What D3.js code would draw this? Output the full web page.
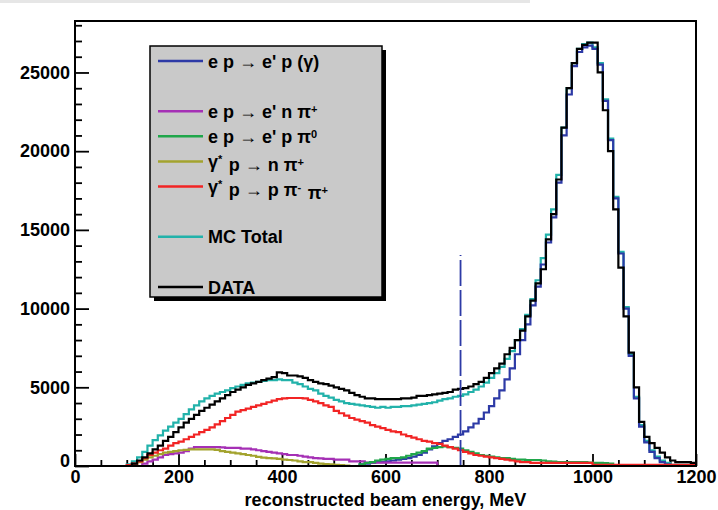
<!DOCTYPE html>
<html>
<head>
<meta charset="utf-8">
<script src="https://cdnjs.cloudflare.com/ajax/libs/d3/7.8.5/d3.min.js"></script>
<style>
  body { margin: 0; background: #fff; }
  text { font-family: "Liberation Sans", Arial, Helvetica, sans-serif; font-weight: bold; }
</style>
</head>
<body>
<div class="chart"></div>
<script>
var svgWidth = 718;
var svgHeight = 510;

var margin = { top: 21, right: 22, bottom: 44, left: 75 };

var width = svgWidth - margin.left - margin.right;
var height = svgHeight - margin.top - margin.bottom;

// 10 MeV bins from 0 to 1200 MeV
var binWidth = 10;
var binLow = d3.range(0, 1200, binWidth);

// counts per bin (one line = 100 MeV)
var dataCounts = [
  0, 0, 0, 0, 0, 0, 0, 0, 0, 0,
  0, 150, 350, 550, 800, 1050, 1300, 1600, 1850, 2150,
  2450, 2750, 3000, 3250, 3500, 3700, 3900, 4100, 4300, 4500,
  4700, 4850, 5000, 5150, 5250, 5350, 5450, 5550, 5650, 5950,
  5900, 5750, 5750, 5700, 5600, 5450, 5350, 5250, 5200, 5100,
  5000, 4900, 4800, 4650, 4500, 4400, 4300, 4300, 4250, 4250,
  4250, 4250, 4250, 4300, 4300, 4350, 4450, 4450, 4500, 4550,
  4600, 4650, 4700, 4850, 4900, 4950, 5050, 5200, 5350, 5600,
  5900, 6200, 6500, 7100, 7500, 8000, 8600, 9500, 10500, 11600,
  12500, 14400, 16000, 18200, 21500, 24000, 25600, 26500, 26750, 26900,
  26900, 25000, 22600, 20000, 16300, 12600, 9500, 7200, 5000, 2800,
  1850, 1450, 1150, 850, 550, 350, 250, 250, 250, 200
];

var mcTotal = [
  0, 0, 0, 0, 0, 0, 0, 0, 0, 0,
  100, 300, 550, 900, 1300, 1650, 1950, 2250, 2500, 2750,
  3000, 3300, 3600, 3850, 4100, 4300, 4450, 4600, 4700, 4800,
  4950, 5050, 5150, 5250, 5300, 5350, 5400, 5450, 5450, 5500,
  5450, 5450, 5300, 5200, 5050, 4900, 4800, 4600, 4450, 4350,
  4200, 4100, 4000, 3950, 3900, 3850, 3800, 3750, 3700, 3750,
  3700, 3750, 3750, 3800, 3800, 3850, 3900, 3950, 4000, 4050,
  4150, 4250, 4300, 4400, 4450, 4550, 4700, 4850, 5050, 5300,
  5600, 5900, 6300, 6800, 7300, 8000, 8700, 9600, 10600, 11800,
  13200, 14700, 16300, 18500, 21500, 24000, 25600, 26500, 26800, 26900,
  26600, 25600, 23300, 20800, 17100, 13600, 10100, 7100, 4400, 2600,
  1600, 1000, 600, 350, 200, 80, 80, 80, 80, 80
];

// e p -> e' p (gamma)
var elastic = [
  0, 0, 0, 0, 0, 0, 0, 0, 0, 0,
  0, 0, 0, 0, 0, 0, 0, 0, 0, 0,
  0, 0, 0, 0, 0, 0, 0, 0, 0, 0,
  0, 0, 0, 0, 0, 0, 0, 0, 0, 0,
  0, 0, 0, 0, 0, 0, 0, 0, 0, 0,
  0, 0, 0, 0, 0, 100, 150, 200, 250, 250,
  300, 350, 400, 450, 500, 600, 700, 850, 1050, 1250,
  1450, 1600, 1700, 1850, 2000, 2200, 2450, 2700, 3000, 3400,
  3800, 4300, 4800, 5500, 6200, 7100, 8000, 9000, 10200, 11400,
  12800, 14200, 15800, 18000, 21000, 23600, 25400, 26300, 26600, 26700,
  26500, 25500, 23200, 20700, 17000, 13500, 10000, 7000, 4300, 2500,
  1500, 900, 500, 250, 100, 0, 0, 0, 0, 0
];

// e p -> e' n pi+
var npiPlus = [
  0, 0, 0, 0, 0, 0, 0, 0, 0, 0,
  0, 0, 0, 150, 300, 400, 550, 700, 750, 800,
  850, 950, 1100, 1200, 1200, 1200, 1200, 1200, 1180, 1150,
  1150, 1150, 1100, 1100, 1050, 1000, 950, 900, 850, 800,
  750, 700, 700, 650, 600, 550, 500, 480, 450, 450,
  400, 400, 400, 300, 300, 300, 220, 220, 220, 220,
  220, 220, 220, 220, 220, 220, 220, 220, 220, 220,
  0, 0, 0, 0, 0, 0, 0, 0, 0, 0,
  0, 0, 0, 0, 0, 0, 0, 0, 0, 0,
  0, 0, 0, 0, 0, 0, 0, 0, 0, 0,
  0, 0, 0, 0, 0, 0, 0, 0, 0, 0,
  0, 0, 0, 0, 0, 0, 0, 0, 0, 0
];

// e p -> e' p pi0
var ppiZero = [
  0, 0, 0, 0, 0, 0, 0, 0, 0, 0,
  0, 0, 0, 0, 0, 0, 0, 0, 0, 0,
  0, 0, 0, 0, 0, 0, 0, 0, 0, 0,
  0, 0, 0, 0, 0, 0, 0, 0, 0, 0,
  0, 0, 0, 0, 0, 0, 0, 0, 0, 0,
  0, 0, 0, 0, 0, 100, 200, 250, 350, 400,
  450, 500, 500, 550, 650, 750, 850, 950, 1100, 1150,
  1200, 1250, 1200, 1150, 1100, 1000, 900, 800, 700, 650,
  600, 550, 500, 500, 450, 400, 400, 380, 380, 380,
  350, 300, 280, 250, 250, 250, 250, 250, 250, 220,
  200, 200, 180, 150, 0, 0, 0, 0, 0, 0,
  0, 0, 0, 0, 0, 0, 0, 0, 0, 0
];

// gamma* p -> n pi+
var photoNpi = [
  0, 0, 0, 0, 0, 0, 0, 0, 0, 0,
  0, 100, 250, 400, 550, 650, 750, 850, 900, 950,
  1000, 1020, 1050, 1050, 1050, 1050, 1050, 1020, 950, 900,
  850, 800, 750, 700, 650, 580, 530, 500, 480, 450,
  400, 380, 350, 300, 250, 250, 200, 150, 120, 100,
  80, 50, 30, 0, 0, 0, 0, 0, 0, 0,
  0, 0, 0, 0, 0, 0, 0, 0, 0, 0,
  0, 0, 0, 0, 0, 0, 0, 0, 0, 0,
  0, 0, 0, 0, 0, 0, 0, 0, 0, 0,
  0, 0, 0, 0, 0, 0, 0, 0, 0, 0,
  0, 0, 0, 0, 0, 0, 0, 0, 0, 0,
  0, 0, 0, 0, 0, 0, 0, 0, 0, 0
];

// gamma* p -> p pi- pi+
var twoPion = [
  0, 0, 0, 0, 0, 0, 0, 0, 0, 0,
  50, 150, 300, 500, 700, 850, 1000, 1100, 1300, 1450,
  1550, 1700, 1850, 2000, 2150, 2300, 2450, 2650, 2850, 3050,
  3250, 3450, 3550, 3650, 3750, 3850, 3950, 4050, 4150, 4250,
  4300, 4320, 4320, 4320, 4300, 4200, 4100, 4000, 3850, 3750,
  3500, 3350, 3200, 3050, 2950, 2850, 2750, 2600, 2500, 2400,
  2300, 2200, 2150, 2000, 1900, 1800, 1700, 1600, 1550, 1450,
  1400, 1300, 1200, 1100, 1000, 900, 800, 700, 650, 600,
  550, 500, 450, 400, 350, 300, 250, 250, 200, 200,
  200, 200, 200, 200, 200, 200, 200, 200, 200, 200,
  80, 80, 80, 80, 80, 80, 80, 80, 80, 80,
  80, 80, 80, 80, 80, 80, 80, 80, 80, 80
];

// position of the vertical cut line, MeV, and its height
var cutEnergy = 745;
var cutTop = 13400;

var xMajorTicks = [0, 200, 400, 600, 800, 1000, 1200];
var yMajorTicks = [0, 5000, 10000, 15000, 20000, 25000];

var legendLabels = [
  "e p \u2192 e' p (\u03b3)",
  "e p \u2192 e' n \u03c0^+",
  "e p \u2192 e' p \u03c0^0",
  "\u03b3^* p \u2192 n \u03c0^+",
  "\u03b3^* p \u2192 p \u03c0^- \u03c0^+",
  "MC Total",
  "DATA"
];
var legendRows = [0, 2, 3, 4, 5, 7, 9];
var legendColors = ["#2d3aa6", "#a530b5", "#1fa64a", "#a3a32e", "#f22424", "#22b2aa", "#000000"];

var svg = d3.select(".chart")
  .append("svg")
  .attr("width", svgWidth)
  .attr("height", svgHeight);

// faint strip at the very top of the scan
svg.append("rect")
  .attr("x", 0).attr("y", 0)
  .attr("width", 530).attr("height", 3)
  .attr("fill", "#e6e6e6");

var chartGroup = svg.append("g")
  .attr("transform", `translate(${margin.left}, ${margin.top})`);

var xScale = d3.scaleLinear().domain([0, 1200]).range([0, width]);
var yScale = d3.scaleLinear().domain([0, 28270]).range([height, 0]);

// minor ticks
var xMinor = d3.range(0, 1201, 50).filter(d => d % 200 !== 0);
var yMinor = d3.range(0, 28001, 1000).filter(d => d % 5000 !== 0);

chartGroup.append("g")
  .attr("transform", `translate(0, ${height})`)
  .call(d3.axisBottom(xScale).tickValues(xMinor).tickFormat("").tickSizeInner(-6).tickSizeOuter(0));

chartGroup.append("g")
  .call(d3.axisLeft(yScale).tickValues(yMinor).tickFormat("").tickSizeInner(-7).tickSizeOuter(0));

var xAxis = chartGroup.append("g")
  .attr("transform", `translate(0, ${height})`)
  .call(d3.axisBottom(xScale).tickValues(xMajorTicks).tickFormat(d3.format("d"))
    .tickSizeInner(-12).tickSizeOuter(0).tickPadding(4));

var yAxis = chartGroup.append("g")
  .call(d3.axisLeft(yScale).tickValues(yMajorTicks).tickFormat(d3.format("d"))
    .tickSizeInner(-14).tickSizeOuter(0).tickPadding(5));

chartGroup.selectAll(".domain").remove();
chartGroup.selectAll(".tick line").attr("stroke", "#000").attr("stroke-width", 1.8);
chartGroup.selectAll(".tick text")
  .attr("fill", "#000")
  .style("font-size", "18px")
  .style("font-family", "'Liberation Sans', Arial, sans-serif")
  .style("font-weight", "bold");

// y "0" label sits a bit higher in ROOT
yAxis.selectAll(".tick text").filter(d => d === 0).attr("dy", "0.05em");

// histograms as step outlines
function stepPoints(values) {
  var pts = [];
  values.forEach(function(v, i) {
    pts.push([binLow[i], v]);
    pts.push([binLow[i] + binWidth, v]);
  });
  return pts;
}

var stepLine = d3.line()
  .x(d => xScale(d[0]))
  .y(d => yScale(d[1]));

// drawing order (last on top)
var drawOrder = [
  { values: mcTotal, color: legendColors[5] },
  { values: elastic, color: legendColors[0] },
  { values: npiPlus, color: legendColors[1] },
  { values: ppiZero, color: legendColors[2] },
  { values: photoNpi, color: legendColors[3] },
  { values: twoPion, color: legendColors[4] },
  { values: dataCounts, color: legendColors[6] }
];

chartGroup.selectAll(".hist")
  .data(drawOrder)
  .enter()
  .append("path")
  .attr("class", "hist")
  .attr("d", d => stepLine(stepPoints(d.values)))
  .attr("fill", "none")
  .attr("stroke", d => d.color)
  .attr("stroke-width", 2.2)
  .attr("stroke-linejoin", "miter");

// dashed cut line
chartGroup.append("line")
  .attr("x1", xScale(cutEnergy)).attr("x2", xScale(cutEnergy))
  .attr("y1", yScale(0)).attr("y2", yScale(cutTop))
  .attr("stroke", "#2d3aa6")
  .attr("stroke-width", 1.8)
  .attr("stroke-dasharray", "26,4");

// frame
chartGroup.append("rect")
  .attr("x", 0).attr("y", 0)
  .attr("width", width).attr("height", height)
  .attr("fill", "none")
  .attr("stroke", "#000")
  .attr("stroke-width", 2);

// x axis title
chartGroup.append("text")
  .attr("x", width / 2)
  .attr("y", height + 40)
  .attr("text-anchor", "middle")
  .style("font-size", "18px")
  .text("reconstructed beam energy, MeV");

// legend box with shadow
var legend = svg.append("g");
legend.append("rect")
  .attr("x", 154).attr("y", 50)
  .attr("width", 232).attr("height", 251)
  .attr("fill", "#000");
legend.append("rect")
  .attr("x", 150).attr("y", 46)
  .attr("width", 232).attr("height", 251)
  .attr("fill", "#c9c9c9")
  .attr("stroke", "#000")
  .attr("stroke-width", 1.5);

var rowY = d3.scaleLinear().domain([0, 9]).range([61, 287]);

var entries = legend.selectAll(".entry")
  .data(legendLabels)
  .enter()
  .append("g")
  .attr("class", "entry")
  .attr("transform", (d, i) => `translate(0, ${rowY(legendRows[i])})`);

entries.append("line")
  .attr("x1", 158).attr("x2", 203)
  .attr("y1", 0).attr("y2", 0)
  .attr("stroke", (d, i) => legendColors[i])
  .attr("stroke-width", 2.5);

entries.append("text")
  .attr("x", 208)
  .attr("y", 6.5)
  .style("font-size", "18px")
  .each(function(label) {
    var t = d3.select(this);
    label.split(/(\^.)/).forEach(function(part) {
      if (!part) return;
      if (part[0] === "^") {
        t.append("tspan").attr("dy", "-0.45em").style("font-size", "11px").text(part[1]);
        t.append("tspan").attr("dy", "0.45em").text("\u200a");
      } else {
        t.append("tspan").text(part);
      }
    });
  });
</script>
</body>
</html>
